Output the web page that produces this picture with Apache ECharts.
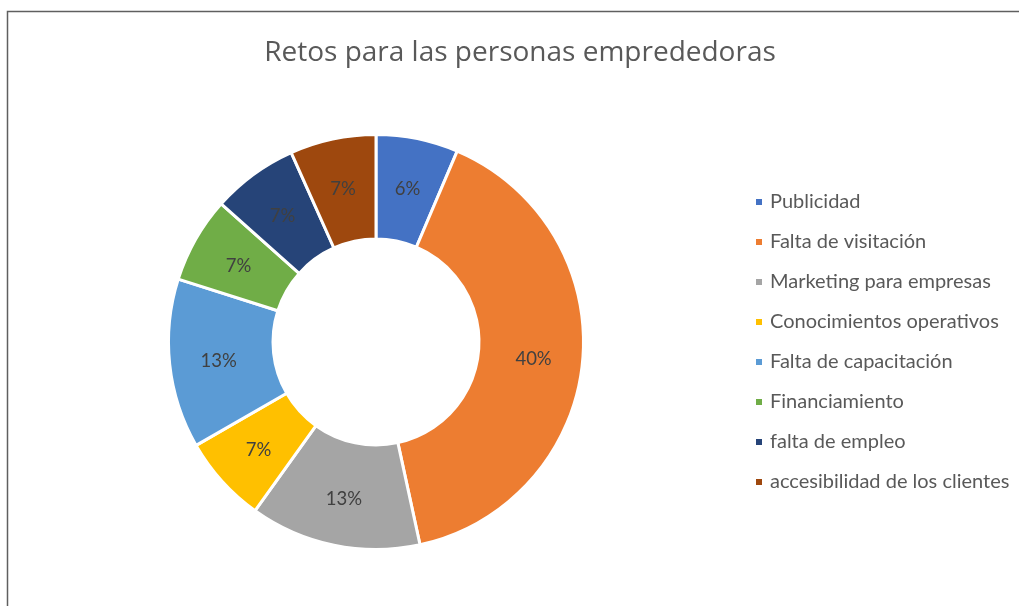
<!DOCTYPE html>
<html>
<head>
<meta charset="utf-8">
<script src="https://cdn.jsdelivr.net/npm/echarts@6/dist/echarts.min.js"></script>
<style>
html,body{margin:0;padding:0;background:#fff;}
#chart{width:1019px;height:606px;}
</style>
</head>
<body>
<div id="chart"></div>
<script>
const titleText = 'Retos para las personas emprededoras';
const categories = ['Publicidad','Falta de visitación','Marketing para empresas','Conocimientos operativos','Falta de capacitación','Financiamiento','falta de empleo','accesibilidad de los clientes'];
const values = [6.4, 40.2, 13.3, 6.8, 13.2, 6.7, 6.7, 6.7];
const colors = ['#4472C4','#ED7D31','#A5A5A5','#FFC000','#5B9BD5','#70AD47','#264478','#9E480E'];

const chart = echarts.init(document.getElementById('chart'));
const FONT = 'Lato';
chart.setOption({
  animation: false,
  backgroundColor: '#ffffff',
  color: colors,
  title: {
    text: titleText,
    left: 515,
    textAlign: 'center',
    top: 34,
    textStyle: {fontFamily: 'Open Sans', fontSize: 28, fontWeight: 'normal', color: '#595959'}
  },
  legend: {
    orient: 'vertical',
    left: 749,
    top: 187,
    icon: 'rect',
    itemWidth: 8,
    itemHeight: 8,
    itemGap: 20,
    data: categories,
    textStyle: {fontFamily: FONT, fontSize: 20, color: '#595959', lineHeight: 20, padding: [0,0,0,2]}
  },
  graphic: [{
    type: 'polyline',
    silent: true,
    shape: {points: [[7.5, 620], [7.5, 11.5], [1030, 11.5]]},
    style: {stroke: '#5f5f5f', lineWidth: 1.5, fill: null}
  }],
  series: [{
    type: 'pie',
    center: [376, 342],
    radius: [103, 207.5],
    startAngle: 90,
    clockwise: true,
    percentPrecision: 0,
    avoidLabelOverlap: false,
    data: categories.map((c, i) => ({name: c, value: values[i]})),
    itemStyle: {borderColor: '#ffffff', borderWidth: 3},
    label: {
      position: 'inside',
      formatter: '{d}%',
      fontFamily: FONT,
      fontSize: 18.5,
      color: '#404040'
    },
    labelLayout: {dy: 2},
    labelLine: {show: false},
    emphasis: {disabled: true}
  }]
});
</script>
</body>
</html>
